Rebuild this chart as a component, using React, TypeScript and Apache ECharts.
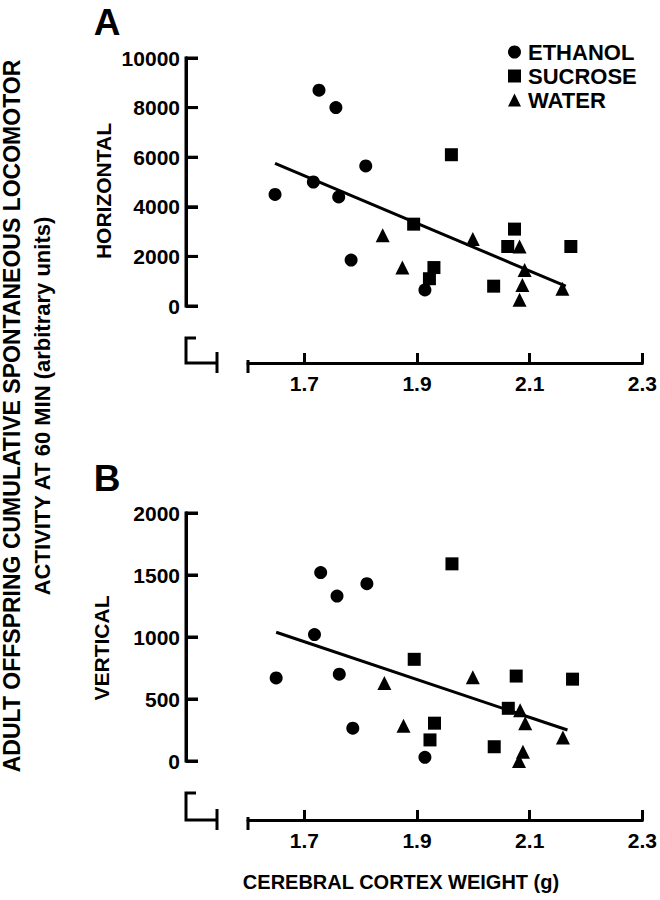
import React, { useEffect, useRef } from "react";
import * as echarts from "echarts";

// ---------- data ----------
const X_TICKS = [1.7, 1.9, 2.1, 2.3];
const Y_TICKS_A = [0, 2000, 4000, 6000, 8000, 10000];
const Y_TICKS_B = [0, 500, 1000, 1500, 2000];
const SERIES_NAMES = ["ETHANOL", "SUCROSE", "WATER"];

// Panel A: horizontal activity
const ethanolA = [
  [1.726, 8700], [1.756, 8000], [1.809, 5650], [1.716, 5000],
  [1.648, 4500], [1.761, 4400], [1.783, 1850], [1.914, 650],
];
const sucroseA = [
  [1.961, 6100], [1.894, 3300], [1.93, 1550], [1.922, 1100],
  [2.036, 800], [2.073, 3100], [2.061, 2400], [2.173, 2400],
];
const waterA = [
  [1.839, 2850], [1.874, 1550], [1.999, 2700], [2.082, 2400],
  [2.091, 1450], [2.087, 850], [2.082, 250], [2.158, 700],
];
const fitA = [[1.648, 5750], [2.164, 800]];

// Panel B: vertical activity
const ethanolB = [
  [1.729, 1520], [1.811, 1430], [1.758, 1330], [1.718, 1020],
  [1.65, 670], [1.762, 700], [1.786, 265], [1.914, 30],
];
const sucroseB = [
  [1.962, 1590], [1.895, 820], [2.076, 685], [2.176, 660],
  [2.062, 425], [1.931, 305], [1.923, 170], [2.037, 115],
];
const waterB = [
  [1.842, 630], [1.876, 285], [1.999, 675], [2.083, 410],
  [2.092, 305], [2.088, 75], [2.081, 0], [2.159, 190],
];
const fitB = [[1.65, 1038], [2.167, 250]];

// ---------- layout ----------
const FONT = '"Liberation Sans", Arial, Helvetica, sans-serif';
const GRID_LEFT = 248;
const GRID_RIGHT = 17;
const GRID_H = 248;
const TOP_A = 58;
const TOP_B = 513;
const Y_OFF = 62;
const XOFF_A = 57;
const XOFF_B = 59;
const LW = 3;
const INK = "#000000";
const Y_LINE_X = GRID_LEFT - Y_OFF;

function breakMarks(axisY: number, topGap: number) {
  const yx = Y_LINE_X;
  const endX = yx + 31;
  const st = { stroke: INK, lineWidth: LW, fill: "none" };
  return [
    { type: "polyline", shape: { points: [[yx + 10, axisY - topGap], [yx, axisY - topGap], [yx, axisY], [endX, axisY]] }, style: { ...st }, silent: true },
    { type: "line", shape: { x1: endX, y1: axisY - 11, x2: endX, y2: axisY + 10 }, style: { ...st }, silent: true },
    { type: "line", shape: { x1: GRID_LEFT, y1: axisY - 3, x2: GRID_LEFT, y2: axisY + 10 }, style: { ...st }, silent: true },
  ];
}

export default function App() {
  const ref = useRef<HTMLDivElement>(null);
  useEffect(() => {
    document.body.style.margin = "0";
    const chart = echarts.init(ref.current!, undefined, { renderer: "svg" });

    const mkTickLabel = () => ({ color: INK, fontFamily: FONT, fontWeight: "bold", fontSize: 21 });

    const xAxis = (gridIndex: number, offset: number) => ({
      type: "value",
      gridIndex,
      min: 1.6,
      max: 2.3,
      position: "bottom",
      offset,
      axisLine: { show: true, onZero: false, lineStyle: { color: INK, width: LW } },
      splitLine: { show: false },
      axisTick: { show: true, inside: true, length: 10, lineStyle: { color: INK, width: LW }, customValues: X_TICKS.slice() },
      axisLabel: { ...mkTickLabel(), margin: 10, customValues: X_TICKS.slice(), formatter: (v: number) => v.toFixed(1) },
    });
    const yAxis = (gridIndex: number, max: number, interval: number) => ({
      type: "value",
      gridIndex,
      min: 0,
      max,
      interval,
      position: "left",
      offset: Y_OFF,
      axisLine: { show: true, onZero: false, lineStyle: { color: INK, width: LW } },
      splitLine: { show: false },
      axisTick: { show: true, inside: true, length: 12, lineStyle: { color: INK, width: LW } },
      axisLabel: { ...mkTickLabel(), margin: 6, formatter: (v: number) => String(v) },
    });

    const scatter = (name: string, symbol: string, size: number, data: number[][], idx: number) => ({
      type: "scatter",
      name,
      symbol,
      symbolSize: size,
      xAxisIndex: idx,
      yAxisIndex: idx,
      itemStyle: { color: INK, opacity: 1 },
      data,
      z: 3,
    });
    const fit = (data: number[][], idx: number) => ({
      type: "line",
      xAxisIndex: idx,
      yAxisIndex: idx,
      data,
      symbol: "none",
      lineStyle: { color: INK, width: LW },
      silent: true,
      z: 2,
    });

    const axisAY = TOP_A + GRID_H + XOFF_A;
    const axisBY = TOP_B + GRID_H + XOFF_B;

    const bigText = (text: string, x: number, y: number, size: number, rot = 0) => ({
      type: "text",
      x,
      y,
      rotation: rot,
      silent: true,
      style: {
        text,
        fill: INK,
        font: `bold ${size}px ${FONT}`,
        textAlign: "center",
        textVerticalAlign: "middle",
      },
    });

    chart.setOption({
      animation: false,
      backgroundColor: "#fff",
      grid: [
        { left: GRID_LEFT, right: GRID_RIGHT, top: TOP_A, height: GRID_H },
        { left: GRID_LEFT, right: GRID_RIGHT, top: TOP_B, height: GRID_H },
      ],
      xAxis: [xAxis(0, XOFF_A), xAxis(1, XOFF_B)],
      yAxis: [yAxis(0, 10000, 2000), yAxis(1, 2000, 500)],
      legend: {
        data: SERIES_NAMES,
        orient: "vertical",
        left: 503,
        top: 36,
        itemWidth: 13,
        itemHeight: 13,
        itemGap: 2,
        selectedMode: false,
        textStyle: { color: INK, fontFamily: FONT, fontWeight: "bold", fontSize: 22, lineHeight: 22, padding: [0, 0, 0, 2] },
      },
      series: [
        scatter(SERIES_NAMES[0], "circle", 13, ethanolA, 0),
        scatter(SERIES_NAMES[1], "rect", 13, sucroseA, 0),
        scatter(SERIES_NAMES[2], "triangle", 14, waterA, 0),
        fit(fitA, 0),
        scatter(SERIES_NAMES[0], "circle", 13, ethanolB, 1),
        scatter(SERIES_NAMES[1], "rect", 13, sucroseB, 1),
        scatter(SERIES_NAMES[2], "triangle", 14, waterB, 1),
        fit(fitB, 1),
      ],
    });

    // y-axis spine and ticks, positioned through the library's own y scales
    const spine = (axisIndex: number, ticks: number[]) => {
      const st = { stroke: INK, lineWidth: LW, fill: "none" };
      const py = (v: number) => chart.convertToPixel({ yAxisIndex: axisIndex }, v) as number;
      const yTop = py(ticks[ticks.length - 1]);
      const yBot = py(ticks[0]);
      const items: any[] = [
        { type: "line", shape: { x1: Y_LINE_X, y1: yTop - 1.5, x2: Y_LINE_X, y2: yBot + 1.5 }, style: { ...st }, silent: true, z: 10 },
      ];
      ticks.forEach((t) => {
        const y = py(t);
        items.push({ type: "line", shape: { x1: Y_LINE_X, y1: y, x2: Y_LINE_X + 12, y2: y }, style: { ...st }, silent: true, z: 10 });
      });
      return items;
    };

    chart.setOption({
      graphic: [
        ...spine(0, Y_TICKS_A),
        ...spine(1, Y_TICKS_B),
        ...breakMarks(axisAY, 25),
        ...breakMarks(axisBY, 27),
        bigText("A", 107, 22, 37),
        bigText("B", 107, 478, 37),
        bigText("HORIZONTAL", 103, 191, 21, Math.PI / 2),
        bigText("VERTICAL", 101, 648, 21, Math.PI / 2),
        bigText("ADULT OFFSPRING CUMULATIVE SPONTANEOUS LOCOMOTOR", 12, 416, 23, Math.PI / 2),
        bigText("ACTIVITY AT 60 MIN (arbitrary units)", 42, 406, 22, Math.PI / 2),
        bigText("CEREBRAL CORTEX WEIGHT (g)", 401, 882, 20),
      ],
    });
    return () => chart.dispose();
  }, []);
  return <div ref={ref} style={{ width: 660, height: 900 }} />;
}
